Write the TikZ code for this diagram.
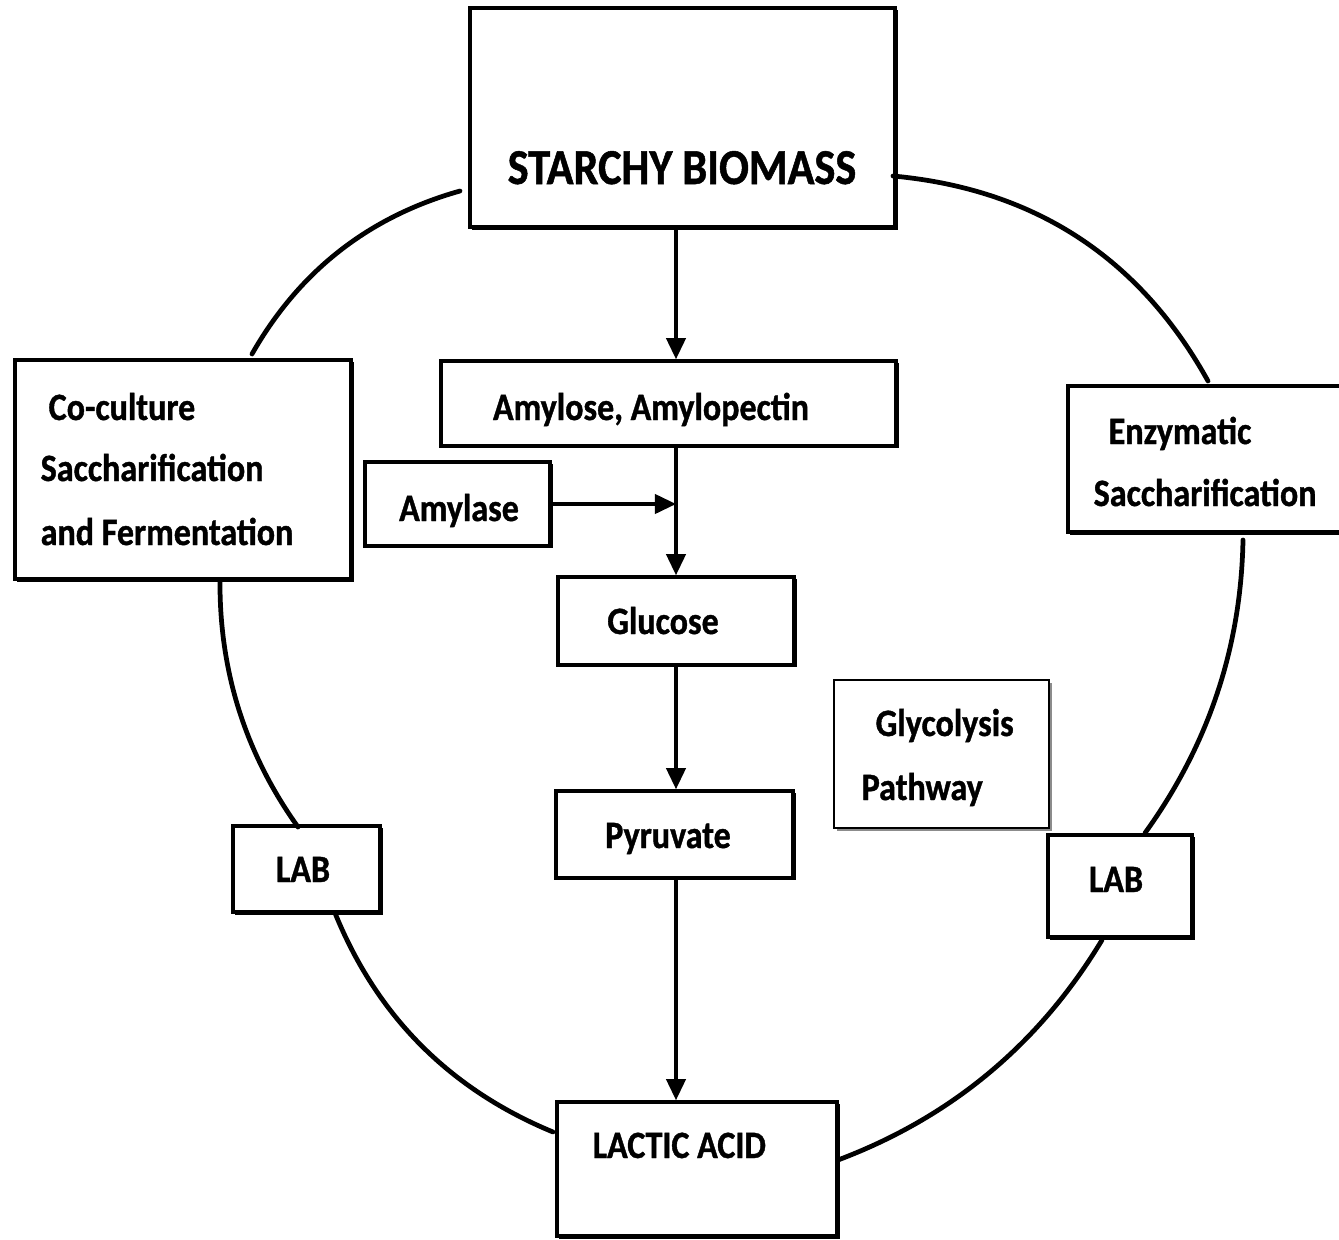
\documentclass[tikz,border=0pt]{standalone}
\usepackage{fontspec}
\setmainfont{Carlito}[FakeStretch=0.88, BoldFeatures={FakeBold=1}]
\usetikzlibrary{arrows.meta,shadows}
\begin{document}
\begin{tikzpicture}[x=0.01cm,y=-0.01cm,
  box/.style={draw=black, line width=1pt, fill=white, inner sep=0pt,
    drop shadow={shadow xshift=0.7pt, shadow yshift=-0.7pt, opacity=1, fill=black}},
  thinbox/.style={draw=black, line width=0.6pt, fill=white, inner sep=0pt,
    drop shadow={shadow xshift=0.9pt, shadow yshift=-0.9pt, opacity=1, fill=black!45}},
  lbl/.style={font=\bfseries\fontsize{11pt}{13pt}\selectfont, inner sep=0pt},
  title/.style={font=\bfseries\fontsize{14.3pt}{17pt}\selectfont, inner sep=0pt},
  flow/.style={line width=0.9pt, -{Triangle[length=6pt,width=5.5pt]}},
  ring/.style={line width=1.35pt, line cap=round}]
\useasboundingbox (0,0) rectangle (1339,1239);

% boxes
\node[box, minimum width=4.25cm, minimum height=2.19cm] (starch) at (682.5,117.5) {};
\node[box, minimum width=4.55cm, minimum height=0.85cm] (amylo) at (668.5,403.5) {};
\node[box, minimum width=1.85cm, minimum height=0.84cm] (amylase) at (457.5,504) {};
\node[box, minimum width=3.36cm, minimum height=2.19cm] (cocult) at (183,469.5) {};
\node[box, minimum width=2.8cm, minimum height=1.46cm] (enzym) at (1208,459) {};
\node[box, minimum width=2.36cm, minimum height=0.88cm] (glucose) at (676,621) {};
\node[thinbox, minimum width=2.15cm, minimum height=1.48cm] (glyco) at (941.5,754) {};
\node[box, minimum width=2.37cm, minimum height=0.87cm] (pyruv) at (674.5,834.5) {};
\node[box, minimum width=1.47cm, minimum height=0.86cm] (labL) at (306.5,869) {};
\node[box, minimum width=1.44cm, minimum height=1.02cm] (labR) at (1120,886) {};
\node[box, minimum width=2.8cm, minimum height=1.34cm] (lactic) at (697,1169) {};

% texts
\node[title, anchor=base] (tstarch) at (682,184) {STARCHY BIOMASS};
\node[lbl, anchor=base] (tamylo) at (651,420) {Amylose, Amylopectin};
\node[lbl, anchor=base] (tamylase) at (459,521) {Amylase};
\node[lbl, anchor=base west] (tco1) at (48,420) {Co-culture};
\node[lbl, anchor=base west] (tco2) at (40,481) {Saccharification};
\node[lbl, anchor=base west] (tco3) at (40,545) {and Fermentation};
\node[lbl, anchor=base west] (ten1) at (1108,444) {Enzymatic};
\node[lbl, anchor=base west] (ten2) at (1093,506) {Saccharification};
\node[lbl, anchor=base] (tglu) at (663,634) {Glucose};
\node[lbl, anchor=base west] (tgly1) at (875,736) {Glycolysis};
\node[lbl, anchor=base west] (tgly2) at (861,800) {Pathway};
\node[lbl, anchor=base] (tpyr) at (668,848) {Pyruvate};
\node[lbl, anchor=base] (tlabL) at (303,882) {LAB};
\node[lbl, anchor=base] (tlabR) at (1116,892) {LAB};
\node[lbl, anchor=base west] (tlac) at (592,1158) {LACTIC ACID};

% main pathway arrows
\coordinate (join) at (amylase.east -| glucose.north);
\draw[flow] (starch.south -| glucose.north) -- (amylo.north -| glucose.north);
\draw[flow] (amylo.south -| glucose.north) -- (glucose.north);
\draw[flow] (amylase.east) -- (join);
\draw[flow] (glucose.south) -- (glucose.south |- pyruv.north);
\draw[flow] (pyruv.south -| glucose.north) -- (lactic.north -| glucose.north);

% ring of process routes
\coordinate (r1a) at (460,191);   \coordinate (r1b) at (252,354);
\coordinate (r2a) at (893,176);   \coordinate (r2b) at (1208,381);
\coordinate (r3a) at (1243,540);  \coordinate (r3b) at (1145,833);
\coordinate (r4a) at (1102,940);  \coordinate (r4b) at (838,1160);
\coordinate (r5a) at (220,580);   \coordinate (r5b) at (298,827);
\coordinate (r6a) at (335,913);   \coordinate (r6b) at (553,1132);
\draw[ring] (r1a) .. controls (368.7,216.7) and (299.3,271) .. (r1b);
\draw[ring] (r2a) .. controls (1034.3,189) and (1139.3,257.3) .. (r2b);
\draw[ring] (r3a) .. controls (1241,647.7) and (1208.3,745.3) .. (r3b);
\draw[ring] (r4a) .. controls (1039.3,1044) and (951.3,1117.3) .. (r4b);
\draw[ring] (r5a) .. controls (219.3,671) and (245.3,753.3) .. (r5b);
\draw[ring] (r6a) .. controls (377,1016.3) and (449.7,1089.3) .. (r6b);
\end{tikzpicture}
\end{document}
